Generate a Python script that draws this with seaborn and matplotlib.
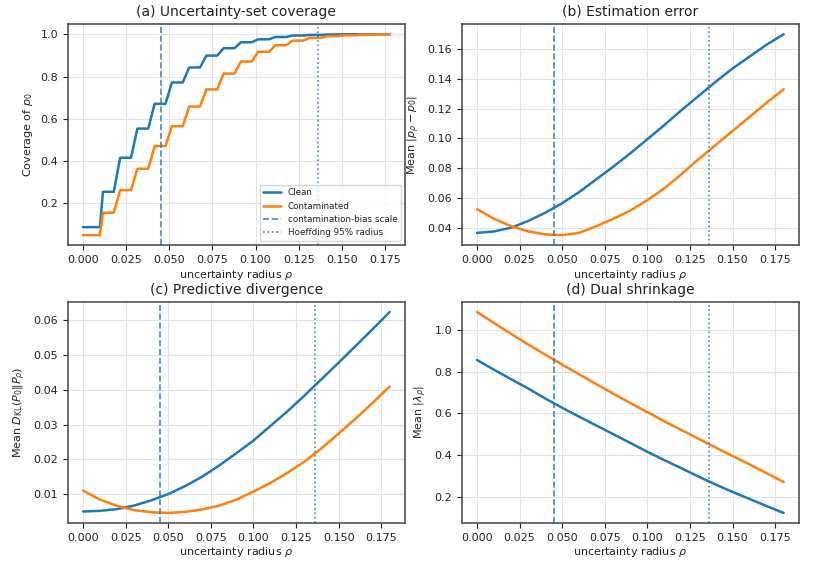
import numpy as np
import pandas as pd
import matplotlib
matplotlib.use("Agg")
import matplotlib.pyplot as plt
import seaborn as sns

# uncertainty radius grid for the smooth panels
rho = [0.00, 0.01, 0.02, 0.03, 0.04, 0.05, 0.06, 0.07, 0.08, 0.09,
       0.10, 0.11, 0.12, 0.13, 0.14, 0.15, 0.16, 0.17, 0.18]

# (a) coverage levels, one per 0.01 band of rho
cov_clean = [0.088, 0.255, 0.416, 0.554, 0.671, 0.772, 0.843, 0.899, 0.934,
             0.962, 0.976, 0.987, 0.994, 0.997, 0.999, 1.0, 1.0, 1.0]
cov_cont = [0.050, 0.156, 0.263, 0.364, 0.471, 0.565, 0.658, 0.739, 0.814,
            0.871, 0.917, 0.948, 0.970, 0.983, 0.991, 0.995, 0.998, 1.0]

# (b) estimation error
err_clean = [0.0365, 0.0375, 0.0400, 0.0445, 0.0500, 0.0565, 0.0640, 0.0725, 0.0810, 0.0900,
             0.0995, 0.1090, 0.1190, 0.1285, 0.1380, 0.1470, 0.1550, 0.1630, 0.1700]
err_cont = [0.0525, 0.0460, 0.0410, 0.0375, 0.0355, 0.0350, 0.0365, 0.0410, 0.0460, 0.0515,
            0.0585, 0.0665, 0.0760, 0.0860, 0.0955, 0.1050, 0.1145, 0.1240, 0.1330]

# (c) predictive divergence
kl_clean = [0.0051, 0.0053, 0.0058, 0.0068, 0.0083, 0.0101, 0.0124, 0.0151, 0.0183, 0.0218,
            0.0254, 0.0296, 0.0338, 0.0383, 0.0430, 0.0477, 0.0525, 0.0573, 0.0622]
kl_cont = [0.0111, 0.0085, 0.0067, 0.0055, 0.0049, 0.0047, 0.0050, 0.0057, 0.0068, 0.0085,
           0.0108, 0.0133, 0.0162, 0.0194, 0.0232, 0.0274, 0.0317, 0.0362, 0.0409]

# (d) dual shrinkage
lam_clean = [0.857, 0.810, 0.765, 0.720, 0.672, 0.627, 0.584, 0.542, 0.500, 0.458,
             0.415, 0.375, 0.336, 0.296, 0.258, 0.222, 0.188, 0.154, 0.121]
lam_cont = [1.088, 1.035, 0.983, 0.932, 0.883, 0.835, 0.788, 0.741, 0.695, 0.650,
            0.606, 0.562, 0.520, 0.478, 0.436, 0.395, 0.355, 0.312, 0.270]

bias_scale = 0.045
hoeffding = 0.136


def step_vertices(levels, rho_max=0.18):
    # each level holds on its 0.01 band, with a short ramp between bands
    xs, ys = [0.0, 0.0098], [levels[0], levels[0]]
    for k, lv in enumerate(levels[1:], start=1):
        xs += [0.01 * k + 0.0015, min(0.01 * k + 0.0078, rho_max)]
        ys += [lv, lv]
    return xs, ys


sns.set_style("ticks")
plt.rcParams.update({
    "axes.edgecolor": "#444444",
    "axes.linewidth": 1.1,
    "axes.titlesize": 10,
    "axes.labelsize": 8,
    "xtick.labelsize": 8,
    "ytick.labelsize": 8,
    "xtick.color": "#222222",
    "ytick.color": "#222222",
    "text.color": "#222222",
    "axes.labelcolor": "#222222",
})
plt.rcParams["font.family"] = ["DejaVu Sans"]

blue, orange = "#1f77b4", "#ff7f0e"

fig, axes = plt.subplots(2, 2, figsize=(8.22, 5.63), dpi=100)
fig.subplots_adjust(left=0.0824, right=0.972, top=0.957, bottom=0.0711,
                    wspace=0.168, hspace=0.257)

panels = [
    ("(a) Uncertainty-set coverage", r"Coverage of $p_0$", None, None),
    ("(b) Estimation error", r"Mean $|p_\rho - p_0|$", err_clean, err_cont),
    ("(c) Predictive divergence", r"Mean $D_{\mathrm{KL}}(P_0\|P_\rho)$", kl_clean, kl_cont),
    ("(d) Dual shrinkage", r"Mean $|\lambda_\rho|$", lam_clean, lam_cont),
]

for ax, (title, ylabel, yc, yk) in zip(axes.flat, panels):
    if yc is None:
        xc, vc = step_vertices(cov_clean)
        xk, vk = step_vertices(cov_cont)
    else:
        xc, vc, xk, vk = rho, yc, rho, yk
    sns.lineplot(x=xc, y=vc, ax=ax, color=blue, linewidth=1.8, label="Clean")
    sns.lineplot(x=xk, y=vk, ax=ax, color=orange, linewidth=1.8, label="Contaminated")
    ax.axvline(bias_scale, color=blue, linestyle="--", linewidth=1.2, alpha=0.85,
               label="contamination-bias scale")
    ax.axvline(hoeffding, color=blue, linestyle=":", linewidth=1.2, alpha=0.85,
               label="Hoeffding 95% radius")
    ax.set_title(title)
    ax.set_ylabel(ylabel)
    ax.set_xlabel(r"uncertainty radius $\rho$", labelpad=2)
    ax.grid(True, color="#e2e2e2", linewidth=0.8)
    ax.set_xticks([0.0, 0.025, 0.05, 0.075, 0.1, 0.125, 0.15, 0.175])
    ax.set_xticklabels(["0.000", "0.025", "0.050", "0.075", "0.100", "0.125", "0.150", "0.175"])
    if yc is None:
        ax.legend(loc="lower right", fontsize=6.3, frameon=True)
    else:
        ax.get_legend().remove()

fig.savefig("out.png", dpi=100)
